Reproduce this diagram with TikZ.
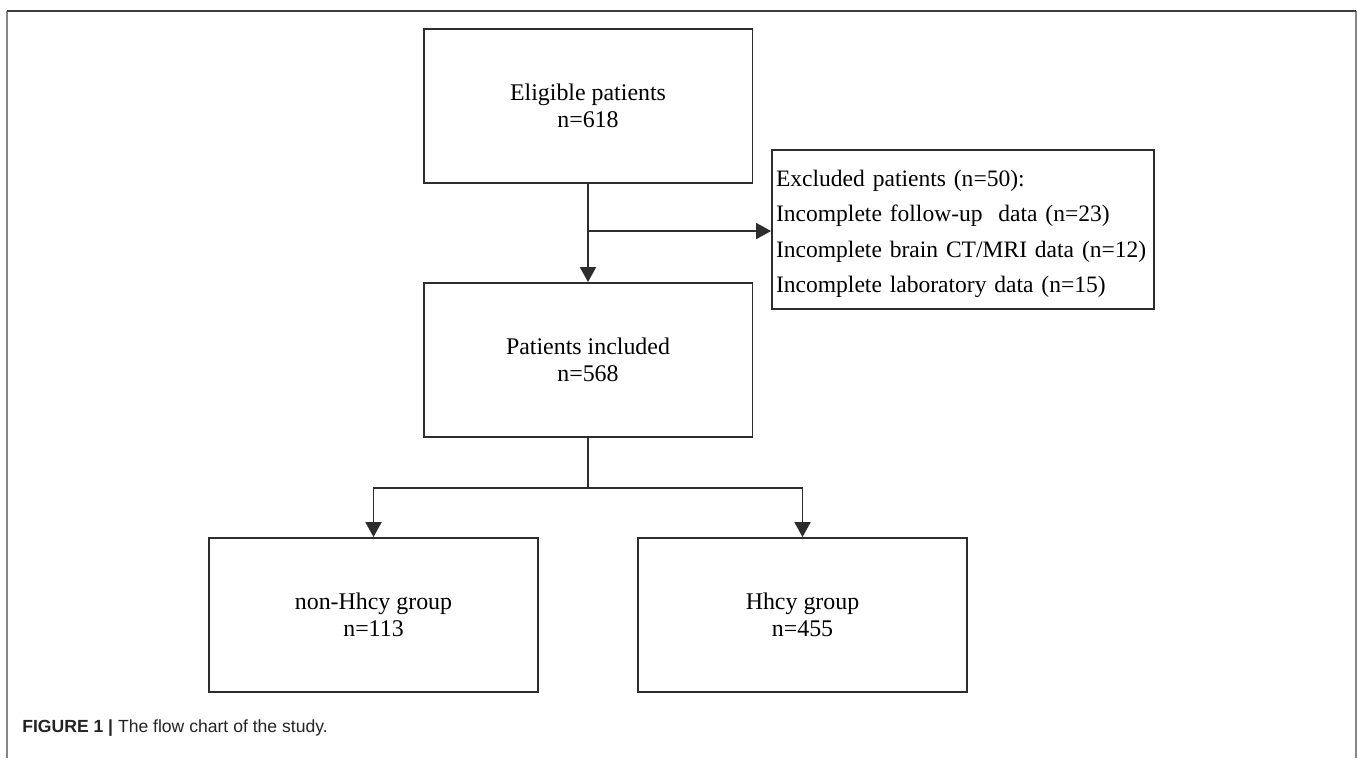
\documentclass[tikz,border=0pt]{standalone}
\usepackage{xcolor}
\usepackage{tikz}
\usepackage{fontspec}
\usetikzlibrary{arrows.meta,calc}
\setmainfont{Liberation Serif}
\newfontfamily\capfont{Liberation Sans}
\definecolor{boxline}{RGB}{45,45,45}
\definecolor{frameside}{RGB}{135,135,135}
\definecolor{frametop}{RGB}{60,60,60}
\definecolor{captext}{RGB}{35,35,35}

\begin{document}
\begin{tikzpicture}[x=0.02cm, y=-0.02cm,
    flowbox/.style={draw=boxline, line width=1.1pt, minimum width=6.58cm, minimum height=3.08cm,
        align=center, font=\fontsize{13.6}{15.4}\selectfont},
    exclbox/.style={draw=boxline, line width=1.1pt, text width=7.48cm, minimum height=3.18cm,
        inner xsep=0.08cm, align=left, font=\fontsize{13.4}{20.2}\selectfont},
    link/.style={draw=boxline, line width=1.1pt},
    linkarrow/.style={link, -{Triangle[length=0.3cm, width=0.32cm]}}]
    \useasboundingbox (0,0) rectangle (1358,758);
    \draw[frameside, line width=1.2pt] (7,758) -- (7,11);
    \draw[frameside, line width=1.2pt] (1356,11) -- (1356,758);
    \draw[frametop, line width=0.8pt] (7,11) -- (1356,11);

    \node[flowbox] (eligible) at (588,106) {Eligible patients\\n=618};
    \node[flowbox] (included) at (588,360) {Patients included\\n=568};
    \node[exclbox] (excluded) at (963,229.5) {\rule{0pt}{0.5cm}Excluded patients (n=50):\\
        Incomplete follow-up\ \ data (n=23)\\
        Incomplete brain CT/MRI data (n=12)\\
        Incomplete laboratory data (n=15)};
    \node[flowbox] (nonhhcy) at (373.5,615) {non-Hhcy group\\n=113};
    \node[flowbox] (hhcy) at (802.5,615) {Hhcy group\\n=455};

    \coordinate (split) at ($(eligible.south)!0.48!(included.north)$);
    \coordinate (fork) at ($(included.south)+(0,50)$);
    \draw[linkarrow] (eligible.south) -- (included.north);
    \draw[linkarrow] (split) -- (split -| excluded.west);
    \draw[link] (included.south) -- (fork);
    \draw[linkarrow] (fork) -| (nonhhcy.north);
    \draw[linkarrow] (fork) -| (hhcy.north);

    \node[anchor=west, inner sep=0pt, text=captext, font=\capfont\fontsize{10}{12}\selectfont] (caption) at (22,728)
        {\textbf{FIGURE 1 |} The flow chart of the study.};
\end{tikzpicture}
\end{document}
